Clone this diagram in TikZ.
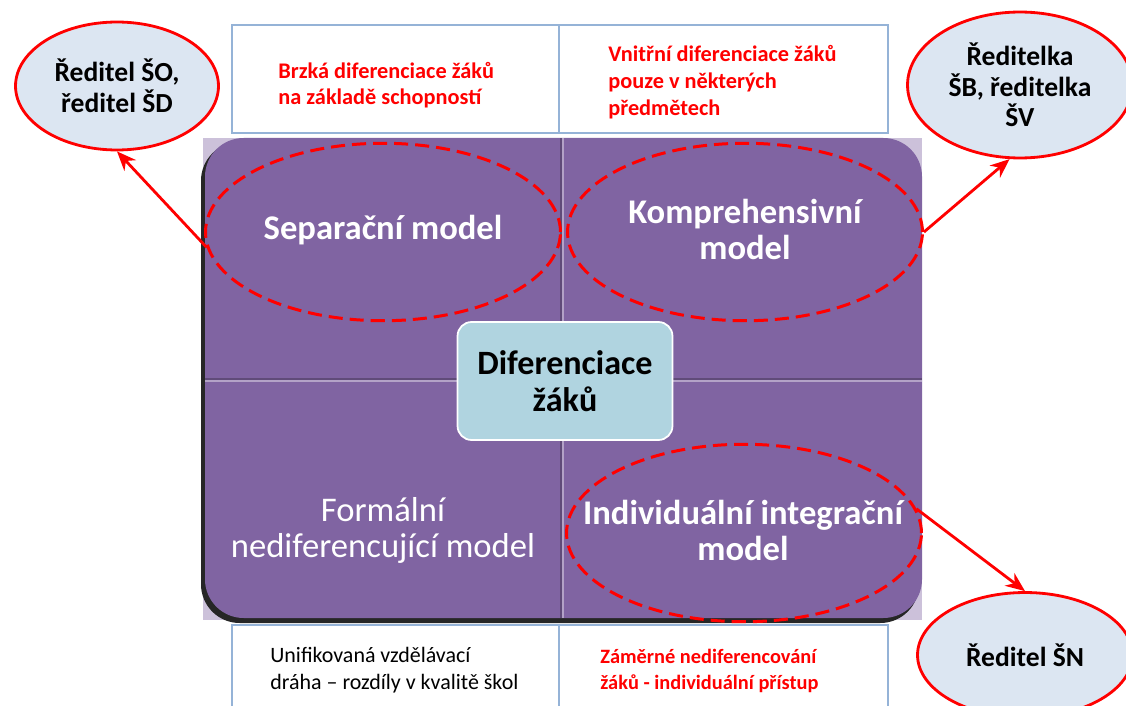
\documentclass[tikz,border=0pt]{standalone}
\usepackage{fontspec}
\setmainfont{Carlito}
\usetikzlibrary{arrows.meta,shapes.geometric}
\definecolor{tilepurple}{HTML}{8064A2}
\definecolor{tilelav}{HTML}{CCC1DA}
\definecolor{boxblue}{HTML}{95B3D7}
\definecolor{ovalfill}{HTML}{DCE6F2}
\definecolor{hubblue}{HTML}{B0D4E0}

\begin{document}
\begin{tikzpicture}[x=0.02cm,y=-0.02cm,
  model/.style={ellipse, draw=red, line width=1.7pt, dash pattern=on 8pt off 4pt,
    minimum width=7.1cm, minimum height=3.55cm, inner sep=0pt},
  modeltext/.style={text=white, align=center, inner sep=0pt,
    font=\fontsize{19.7}{20.5}\selectfont\bfseries},
  head/.style={ellipse, draw=red, line width=1.6pt, fill=ovalfill, inner sep=0pt,
    align=center, font=\fontsize{15.7}{17.4}\selectfont\bfseries},
  note/.style={anchor=west, inner sep=0pt, align=left, text=red,
    font=\fontsize{12.7}{14.6}\selectfont\bfseries},
  conn/.style={red, line width=1.6pt, -{Stealth[length=11pt,width=9pt]}}]
  \useasboundingbox (0,0) rectangle (1126,706);

  % upper and lower tables
  \draw[boxblue, line width=1.2pt] (232,25) rectangle (888,133) (559,25) -- (559,133);
  \draw[boxblue, line width=1.2pt] (232,625) rectangle (888,720) (559,625) -- (559,720);
  \node[note] (early) at (278,85) {Brzká diferenciace žáků\\na základě schopností};
  \node[note, font=\fontsize{12.7}{15.2}\selectfont\bfseries] (inner) at (608,82)
    {Vnitřní diferenciace žáků\\pouze v některých\\předmětech};
  \node[note, text=black, font=\fontsize{12.5}{15.3}\selectfont] (unif) at (270,670)
    {Unifikovaná vzdělávací\\dráha -- rozdíly v kvalitě škol};
  \node[note, font=\fontsize{11.6}{14.8}\selectfont\bfseries] (purpose) at (600,671)
    {Záměrné nediferencování\\žáků - individuální přístup};

  % the four tiles
  \fill[tilelav] (203,138) rectangle (922,620);
  \fill[black!85, rounded corners=22pt] (201,142) rectangle (919,623);
  \fill[tilepurple, rounded corners=22pt] (205,138) rectangle (922,618);
  \draw[tilepurple!75!black, line width=0.8pt] (561,138) -- (561,618) (205,379) -- (922,379);
  \draw[tilepurple!60!white, line width=0.6pt] (563,138) -- (563,618) (205,381) -- (922,381);

  \node[model] (sep) at (383,232) {};
  \node[model] (kompr) at (745,232) {};
  \node[model] (indiv) at (744,533) {};
  \node[modeltext] (septext) at (383,230) {Separační model};
  \node[modeltext] (komprtext) at (745,229) {Komprehensivní\\model};
  \node[modeltext] (indivtext) at (743,530) {Individuální integrační\\model};
  \node[modeltext, font=\fontsize{19.7}{20.5}\selectfont] (form) at (383,530)
    {Formální\\nediferencující model};

  \node[draw=white, line width=1pt, fill=hubblue, rounded corners=8pt,
    minimum width=4.3cm, minimum height=2.36cm, align=center,
    font=\fontsize{19.4}{21}\selectfont\bfseries] (hub) at (565,381) {Diferenciace\\žáků};

  % headmasters
  \node[head, minimum width=4.06cm, minimum height=2.56cm] (so) at (117,86)
    {Ředitel ŠO,\\ředitel ŠD};
  \node[head, minimum width=4.5cm, minimum height=2.92cm] (sb) at (1020,85)
    {Ředitelka\\ŠB, ředitelka\\ŠV};
  \node[head, minimum width=4.3cm, minimum height=2.5cm] (sn) at (1025,655) {Ředitel ŠN};

  \draw[conn] (sep.185) -- (so.south);
  \draw[conn] (kompr.east) -- (sb.262);
  \draw[conn] (indiv.8) -- (sn.north);
\end{tikzpicture}
\end{document}
